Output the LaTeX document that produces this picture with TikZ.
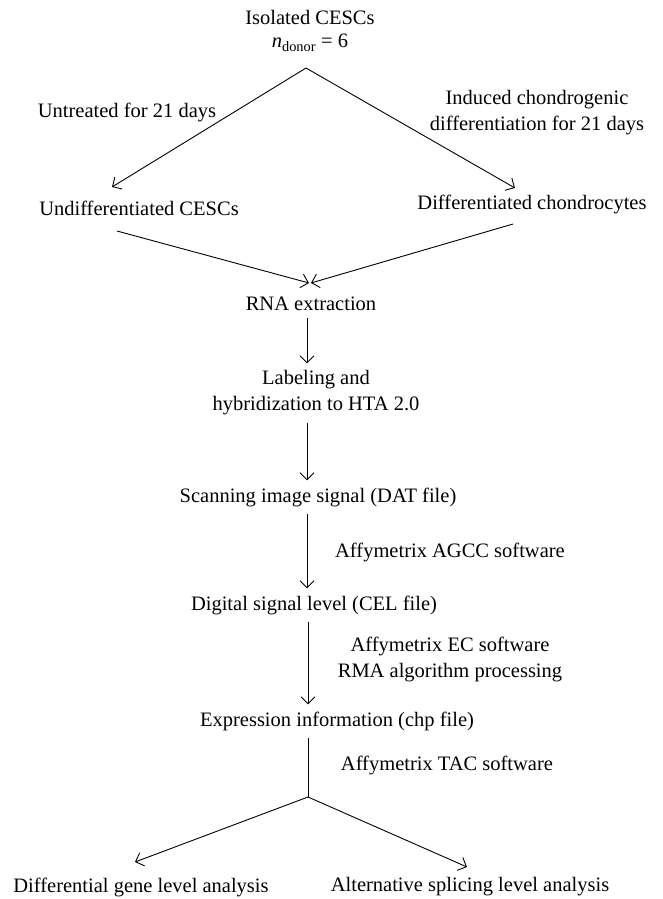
\documentclass[tikz,border=0pt]{standalone}
\usepackage{fontspec}
\setmainfont{Liberation Serif}
\usetikzlibrary{calc, arrows.meta, positioning}

\begin{document}
\begin{tikzpicture}[x=1pt,y=-1pt, every node/.style={font=\fontsize{20.5}{26}\selectfont, align=center, inner sep=7pt},
    flow/.style={line width=0.9pt, -{Straight Barb[length=7pt,width=14pt,line width=0.9pt]}}]
    \useasboundingbox (0,0) rectangle (662,899);
    \node (isolated) at (310,31) {Isolated CESCs\\[-3pt]\textit{n}\textsubscript{donor} = 6};
    \coordinate (split) at (306,68);
    \coordinate (spine) at (307,0);
    \node (untreated) at (127,112) {Untreated for 21 days};
    \node (induced) at (537,113) {Induced chondrogenic\\differentiation for 21 days};
    \node (undiff) at (139,208) {Undifferentiated CESCs};
    \node (chondro) at (532,204) {Differentiated chondrocytes};
    \node (rna) at (311,304) {RNA extraction};
    \node (labeling) at (316,393) {Labeling and\\hybridization to HTA 2.0};
    \node (scanning) at (318,497) {Scanning image signal (DAT file)};
    \node (agcc) at (450,552) {Affymetrix AGCC software};
    \node (digital) at (314,605) {Digital signal level (CEL file)};
    \node (ec) at (450,659) {Affymetrix EC software\\RMA algorithm processing};
    \node (expression) at (337,721) {Expression information (chp file)};
    \node (tac) at (447,765) {Affymetrix TAC software};
    \coordinate (fork) at (308,797);
    \node (genelevel) at (141,887) {Differential gene level analysis};
    \node (splicing) at (470,887) {Alternative splicing level analysis};
    % branching and merging
    \draw[flow] (split) -- ($(undiff)+(-27,-21)$);
    \draw[flow] (split) -- ($(chondro)+(-17,-16)$);
    \draw[flow] ($(undiff)+(-22,23)$) -- ($(rna)+(-2,-21)$);
    \draw[flow] ($(chondro)+(-19,20)$) -- ($(rna)+(0,-21)$);
    % main pipeline
    \draw[flow] (rna.south -| spine) -- (labeling.north -| spine);
    \draw[flow] (labeling.south -| spine) -- (scanning.north -| spine);
    \draw[flow] (scanning.south -| spine) -- (digital.north -| spine);
    \draw[flow] ([xshift=1pt]digital.south -| spine) -- ([xshift=1pt]expression.north -| spine);
    \draw[line width=0.9pt] ([xshift=1pt]expression.south -| spine) -- (fork);
    \draw[flow] (fork) -- ($(genelevel)+(-6,-25)$);
    \draw[flow] (fork) -- ($(splicing)+(-3,-20)$);
\end{tikzpicture}
\end{document}
